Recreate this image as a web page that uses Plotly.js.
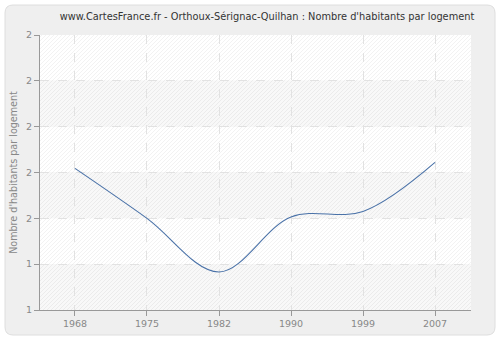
<!DOCTYPE html>
<html>
<head>
<meta charset="utf-8">
<script src="https://cdn.plot.ly/plotly-3.0.1.min.js"></script>
<style>html,body{margin:0;padding:0;background:#fff;}#chart{width:500px;height:340px;}</style>
</head>
<body>
<div id="chart"></div>
<script>
var years = ["1968", "1975", "1982", "1990", "1999", "2007"];
var values = [1.609, 1.500, 1.383, 1.503, 1.515, 1.622];
var yTickVals = [1.3, 1.4, 1.5, 1.6, 1.7, 1.8, 1.9];
var yTickText = ["1", "1", "2", "2", "2", "2", "2"];

var W = 500, H = 340;
var L = 40, R = 471, T = 35, B = 310;
var pw = R - L, ph = B - T;
function px(x) { return (x - L) / pw; }
function py(y) { return (B - y) / ph; }

var shapes = [];
// outer rounded panel
var x0 = px(5), x1 = px(495), y0 = py(335), y1 = py(5);
var rx = 8 / pw, ry = 8 / ph;
shapes.push({
  type: "path", xref: "paper", yref: "paper", layer: "below",
  path: "M " + (x0 + rx) + "," + y0 + " L " + (x1 - rx) + "," + y0 +
        " Q " + x1 + "," + y0 + " " + x1 + "," + (y0 + ry) +
        " L " + x1 + "," + (y1 - ry) + " Q " + x1 + "," + y1 + " " + (x1 - rx) + "," + y1 +
        " L " + (x0 + rx) + "," + y1 + " Q " + x0 + "," + y1 + " " + x0 + "," + (y1 - ry) +
        " L " + x0 + "," + (y0 + ry) + " Q " + x0 + "," + y0 + " " + (x0 + rx) + "," + y0 + " Z",
  fillcolor: "#efefef", line: {color: "#dedede", width: 1}
});
// plot area bands
var bandEdges = [35, 80.8, 126.7, 172.5, 218.3, 264.2, 310];
for (var i = 0; i < 6; i++) {
  shapes.push({
    type: "rect", xref: "paper", yref: "paper", layer: "below",
    x0: 0, x1: 1, y0: py(bandEdges[i + 1]), y1: py(bandEdges[i]),
    fillcolor: (i % 2 === 0) ? "#ffffff" : "#f8f8f8", line: {width: 0}
  });
}
// hatch lines "/" : px + py = c, clipped to plot rect
for (var c = L + T + 2; c < R + B; c += 4) {
  var pts = [];
  var yl = c - L; if (yl >= T && yl <= B) pts.push([L, yl]);
  var yr = c - R; if (yr >= T && yr <= B) pts.push([R, yr]);
  var xt = c - T; if (xt > L && xt < R) pts.push([xt, T]);
  var xb = c - B; if (xb > L && xb < R) pts.push([xb, B]);
  if (pts.length >= 2) {
    shapes.push({
      type: "line", xref: "paper", yref: "paper", layer: "below",
      x0: px(pts[0][0]), y0: py(pts[0][1]), x1: px(pts[1][0]), y1: py(pts[1][1]),
      line: {color: "rgba(0,0,0,0.05)", width: 1}
    });
  }
}

var trace = {
  x: years, y: values, type: "scatter", mode: "lines",
  line: {color: "#4a72a8", width: 1.1, shape: "spline", smoothing: 1},
  hoverinfo: "x+y"
};

var fontFam = "'DejaVu Sans', Verdana, sans-serif";
var layout = {
  width: W, height: H,
  margin: {l: L, r: W - R, t: T, b: H - B, pad: 0},
  paper_bgcolor: "#ffffff",
  plot_bgcolor: "rgba(0,0,0,0)",
  showlegend: false,
  font: {family: fontFam, size: 10, color: "#888"},
  title: {
    text: "www.CartesFrance.fr - Orthoux-Sérignac-Quilhan : Nombre d'habitants par logement",
    font: {family: fontFam, size: 9.8, color: "#333"},
    x: 0.534, xanchor: "center", xref: "container",
    y: 1 - 17 / H, yanchor: "middle", yref: "container"
  },
  xaxis: {
    type: "category", range: [-0.486, 5.5],
    showgrid: true, gridcolor: "#e2e2e2", griddash: "dash", gridwidth: 1,
    showline: true, linecolor: "#999", linewidth: 1,
    ticks: "outside", ticklen: 5, tickcolor: "#999",
    tickfont: {family: fontFam, size: 9.5, color: "#888"},
    zeroline: false, fixedrange: true
  },
  yaxis: {
    range: [1.3, 1.9], tickvals: yTickVals, ticktext: yTickText,
    showgrid: true, gridcolor: "#e2e2e2", griddash: "dash", gridwidth: 1,
    showline: true, linecolor: "#999", linewidth: 1,
    ticks: "outside", ticklen: 5, tickcolor: "#999",
    tickfont: {family: fontFam, size: 9.5, color: "#888"},
    title: {text: "Nombre d'habitants par logement", font: {family: fontFam, size: 9.6, color: "#888"}, standoff: 6},
    zeroline: false, fixedrange: true
  },
  shapes: shapes
};

Plotly.newPlot("chart", [trace], layout, {displayModeBar: false, staticPlot: true});
</script>
</body>
</html>
